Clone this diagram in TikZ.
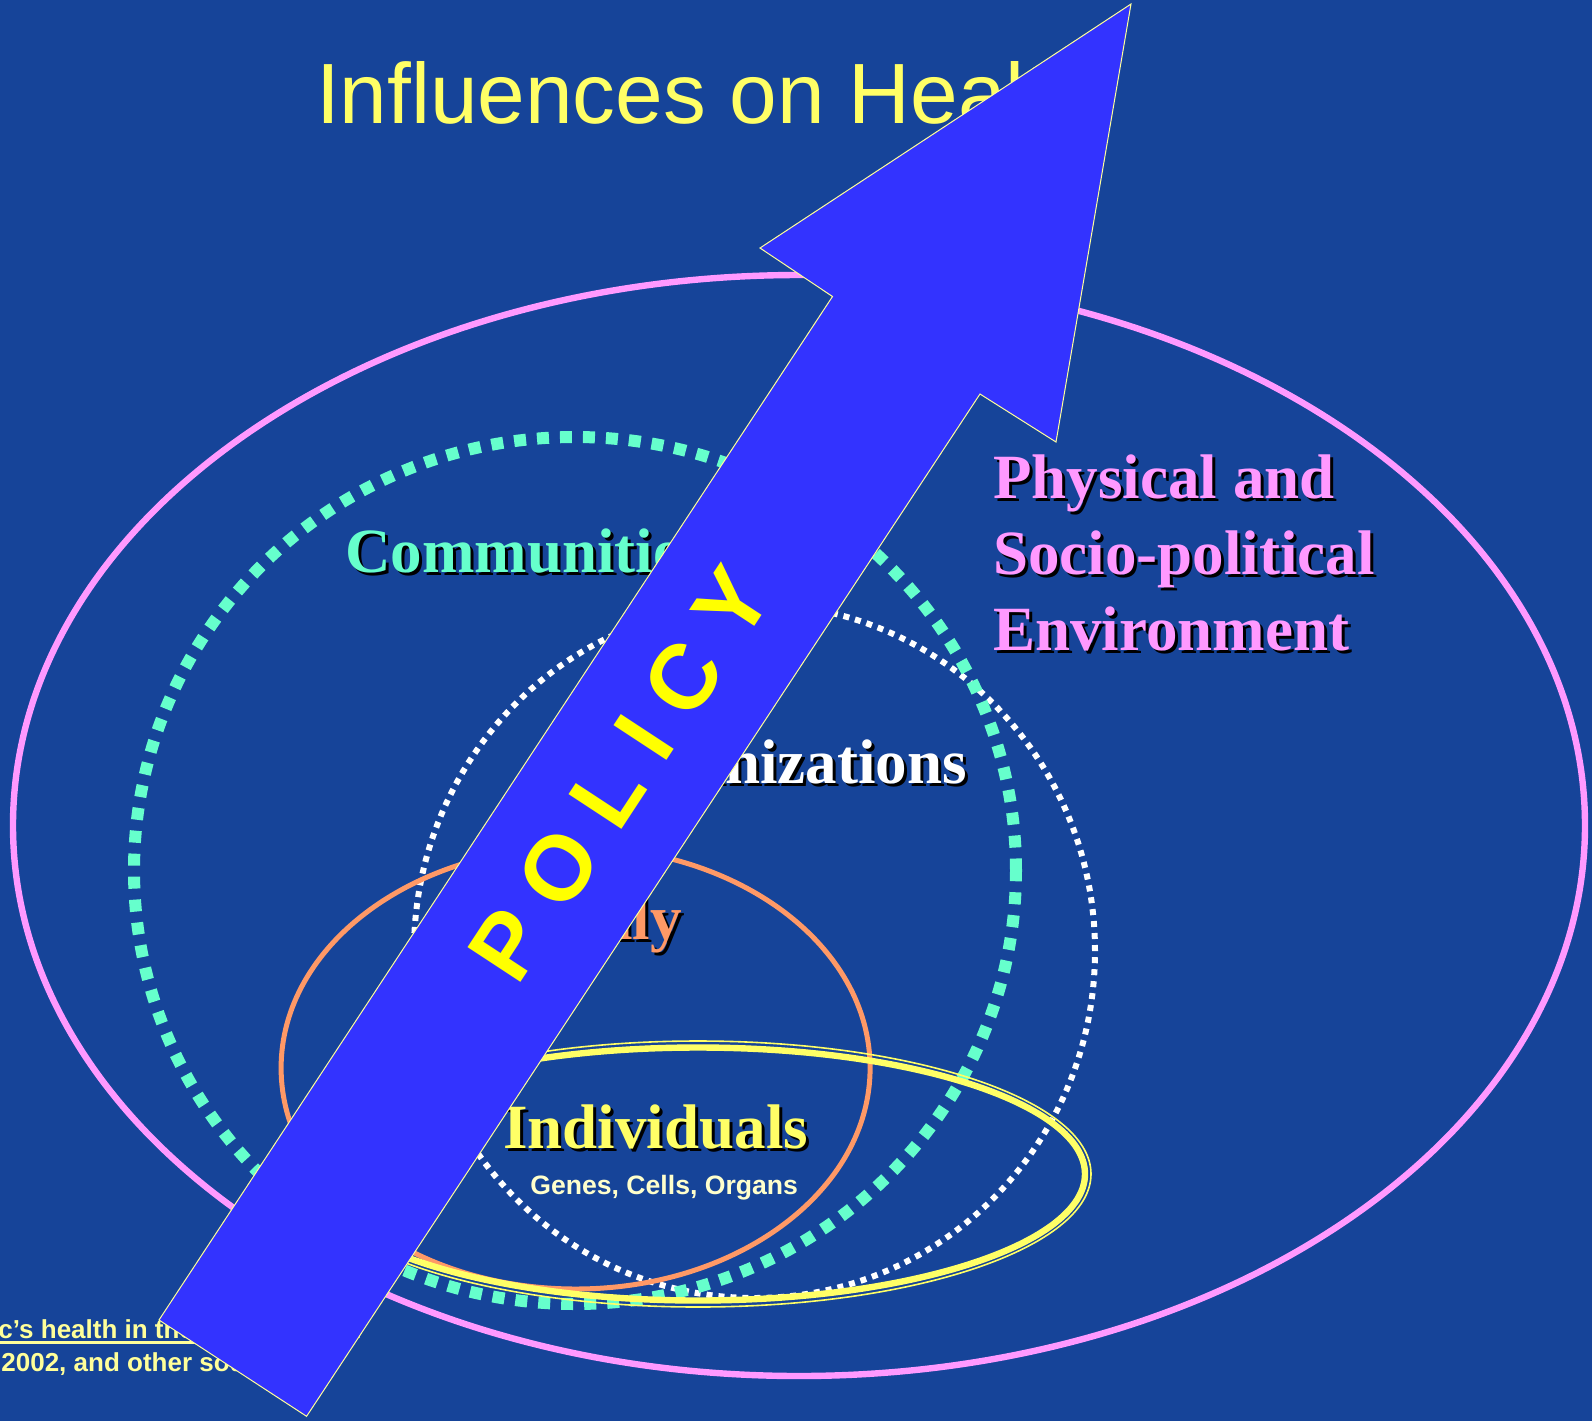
\documentclass[tikz,border=0pt]{standalone}
\usepackage{fontspec}
\setmainfont{Liberation Serif}
\newfontfamily\arialfont{Liberation Sans}
\usetikzlibrary{positioning}

\definecolor{bgblue}{HTML}{164499}
\definecolor{envpink}{HTML}{FF99FF}
\definecolor{commteal}{HTML}{66FFCC}
\definecolor{famorange}{HTML}{FF9966}
\definecolor{indyellow}{HTML}{FFFF66}
\definecolor{arrowblue}{HTML}{3333FF}
\definecolor{policyyellow}{HTML}{FFFF00}
\definecolor{genescream}{HTML}{FFFFCC}
\definecolor{notecream}{HTML}{FFFF99}

\newcommand{\shadowed}[1]{\rlap{\kern1.5pt\raisebox{-1.5pt}{\color{black}#1}}#1}
\newcommand{\thickul}[1]{\setbox0\hbox{#1}\rlap{\rule[-2.8pt]{\wd0}{1.4pt}}\box0}

\begin{document}
\begin{tikzpicture}
  [x=0.5pt,y=-0.5pt,
   ring/.style={line width=3.2pt},
   layer text/.style={inner sep=0pt,anchor=base west,
     font=\bfseries\fontsize{31.5}{38}\selectfont},
   sans text/.style={inner sep=0pt,anchor=base west,font=\arialfont},
   policy arrow/.style={fill=arrowblue,draw=notecream,line width=0.5pt,line join=miter}]

  \useasboundingbox (0,0) rectangle (1592,1421);
  \clip (0,0) rectangle (1592,1421);
  \fill [bgblue] (0,0) rectangle (1592,1421);

  % Nested spheres
  \coordinate (envc)  at (799,825.5);
  \coordinate (commc) at (575,870.5);
  \coordinate (orgc)  at (754.5,951);
  \coordinate (famc)  at (575.6,1068);
  \coordinate (indc)  at (698,1174);

  \draw [ring,envpink] (envc) ellipse [x radius=393pt,y radius=275.25pt];
  \draw [white,line width=3pt,dash pattern=on 3pt off 3pt]
    (orgc) ellipse [x radius=170.25pt,y radius=173.5pt];
  \draw [commteal,line width=6pt,dash pattern=on 6pt off 5.5pt]
    (commc) ellipse [x radius=220.5pt,y radius=216.75pt];
  \draw [famorange,line width=2.5pt] (famc) ellipse [x radius=147.25pt,y radius=110.5pt];
  \draw [indyellow,line width=3.2pt] (indc) ellipse [x radius=193.5pt,y radius=63.25pt];
  \draw [indyellow,line width=0.8pt] (indc) ellipse [x radius=196.5pt,y radius=66.5pt];

  % Labels
  \node [sans text,text=indyellow,font=\arialfont\fontsize{42.8}{50}\selectfont]
    (title) at (315.6,123) {Influences on Health};

  \node [layer text,text=envpink] (env1) at (993,498)   {\shadowed{Physical and}};
  \node [layer text,text=envpink] (env2) at (993,574)   {\shadowed{Socio-political}};
  \node [layer text,text=envpink] (env3) at (993,650.7) {\shadowed{Environment}};

  \node [layer text,text=commteal] (comm) at (345,572) {\shadowed{Communities}};
  \node [layer text,text=white,anchor=base east] (org) at (967,783) {\shadowed{Organizations}};
  \node [layer text,text=famorange,anchor=base east] (fam) at (682,939) {\shadowed{Family}};
  \node [layer text,text=indyellow] (ind) at (503,1148) {\shadowed{Individuals}};
  \node [sans text,text=genescream,font=\arialfont\bfseries\fontsize{13.3}{16}\selectfont]
    (genes) at (530,1194) {Genes, Cells, Organs};

  \node [sans text,text=notecream,anchor=base east,font=\arialfont\bfseries\fontsize{13}{16}\selectfont]
    (src1) at (362,1338) {\thickul{The future of the public’s health in the 21st century}.};
  \node [sans text,text=notecream,font=\arialfont\bfseries\fontsize{13}{16}\selectfont]
    (src2) at (1,1371) {\llap{IOM, }2002, and other sources.};

  % Policy arrow
  \draw [policy arrow] (159,1320) -- (832.5,296.5) -- (760,248) -- (1131,4)
    -- (1056,442) -- (980,394) -- (306.6,1416.3) -- cycle;
  \node [text=policyyellow,inner sep=0pt,rotate=56.7,
         font=\arialfont\bfseries\fontsize{46}{54}\selectfont]
    (policy) at (620,774) {P O L I C Y};

\end{tikzpicture}
\end{document}
